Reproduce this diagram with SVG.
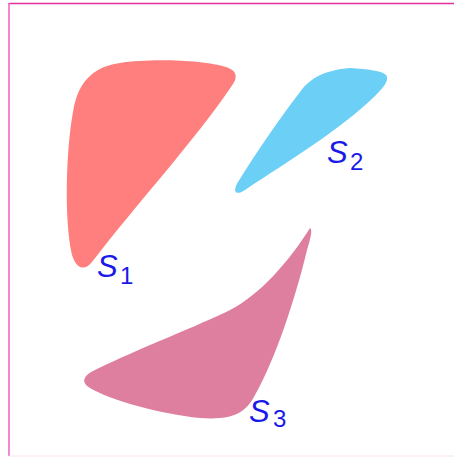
<svg xmlns="http://www.w3.org/2000/svg" width="454" height="457" viewBox="0 0 454 457">
<style>
.lbl{font-family:"Liberation Sans","DejaVu Sans",sans-serif;font-style:italic;fill:#1a1ae8;font-size:31px}
.sub{font-family:"Liberation Sans","DejaVu Sans",sans-serif;fill:#1a1ae8;font-size:24px}
</style>
<rect width="454" height="457" fill="#ffffff"/>
<g id="frame" fill="none">
<line x1="8.5" y1="3.5" x2="454" y2="3.5" stroke="#e0309a" stroke-width="1.5"/>
<line x1="9" y1="3" x2="9" y2="456" stroke="#f060c0" stroke-width="1.5"/>
<line x1="9" y1="456" x2="454" y2="456" stroke="#fde0f0" stroke-width="1"/>
</g>
<g id="S1">
<path d="M 120,63 C 150,58 205,60 226,67 C 238,71 238,78 231,87 C 195,140 140,200 92,262 C 84,272 76,268 72,255 C 64,220 66,150 73,112 C 76,92 84,78 98,70 C 105,66 112,64 120,63 Z" fill="#ff7f7f"/>
<text class="lbl" x="97" y="277">S</text><text class="sub" x="120" y="284">1</text>
</g>
<g id="S2">
<path d="M 350,68 C 368,69 382,71 386,75 C 390,80 383,88 375,96 C 340,130 290,160 245,190 C 236,196 232,192 238,182 C 258,150 280,118 300,92 C 310,78 325,70 350,68 Z" fill="#6bcff6"/>
<text class="lbl" x="327" y="163">S</text><text class="sub" x="350" y="170">2</text>
</g>
<g id="S3">
<path d="M 310,228 C 313,230 310,240 307,250 C 295,300 275,360 255,395 C 245,415 230,420 200,418 C 160,414 110,400 90,388 C 80,382 84,375 95,370 C 140,348 200,325 230,310 C 260,295 290,260 310,228 Z" fill="#df7f9f"/>
<text class="lbl" x="249" y="422">S</text><text class="sub" x="273" y="427">3</text>
</g>
</svg>
